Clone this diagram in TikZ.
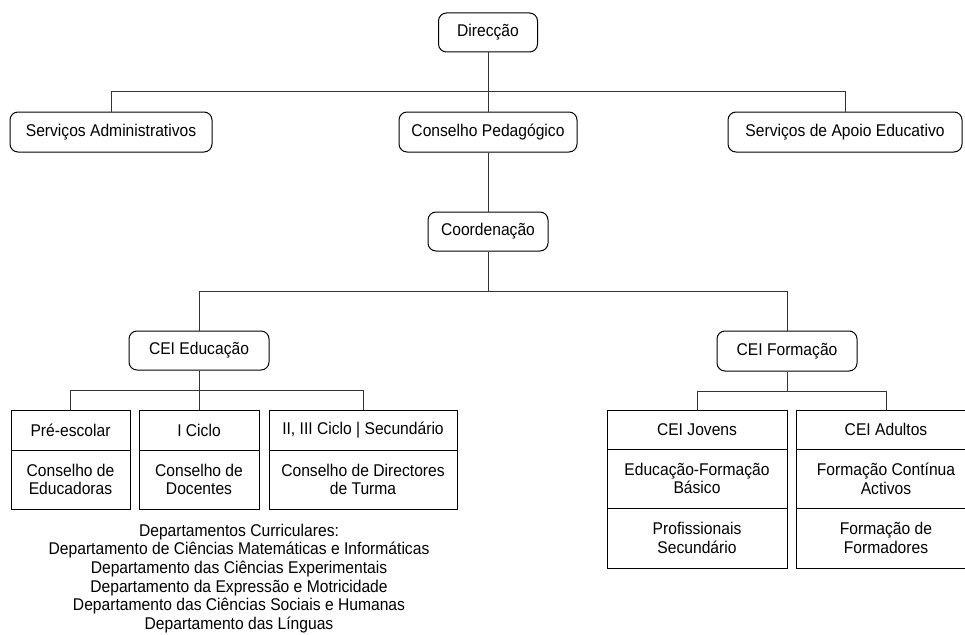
\documentclass[tikz,border=0pt]{standalone}
\usepackage{fontspec}
\setmainfont[FakeStretch=0.92]{Liberation Sans}
\begin{document}
\begin{tikzpicture}[x=1pt,y=-1pt,
  every node/.append style={font=\fontsize{17pt}{18.7pt}\selectfont},
  rbox/.style={draw=black, line width=1pt, rounded corners=8pt, minimum height=40pt, inner sep=0pt, align=center},
  cell/.style={draw=black, line width=1pt, inner sep=0pt, align=center},
  link/.style={draw=black!80, line width=1pt}]
\useasboundingbox (0,0) rectangle (965,634);

% top level
\node[rbox, minimum width=99pt, minimum height=39pt] (dir) at (488,32.5) {Direcção};
\node[rbox, minimum width=202pt] (sadm) at (111,132) {Serviços Administrativos};
\node[rbox, minimum width=178pt] (cped) at (488,132) {Conselho Pedagógico};
\node[rbox, minimum width=234pt] (sapo) at (845,132) {Serviços de Apoio Educativo};
\node[rbox, minimum width=120pt, minimum height=39pt] (coord) at (488,231.5) {Coordenação};
\node[rbox, minimum width=140pt, minimum height=39pt] (ceiedu) at (199,350.5) {CEI Educação};
\node[rbox, minimum width=140pt] (ceifor) at (787,351) {CEI Formação};

% education branch
\node[cell, minimum width=119pt, minimum height=40pt] (pre1) at (70.5,430) {Pré-escolar};
\node[cell, minimum width=119pt, minimum height=59pt] (pre2) at (70.5,479.5) {Conselho de\\Educadoras};
\node[cell, minimum width=120pt, minimum height=40pt] (cic1) at (199,430) {I Ciclo};
\node[cell, minimum width=120pt, minimum height=59pt] (cic2) at (199,479.5) {Conselho de\\Docentes};
\node[cell, minimum width=188pt, minimum height=40pt] (sec1) at (363,430) {II, III Ciclo | Secundário};
\node[cell, minimum width=188pt, minimum height=59pt] (sec2) at (363,479.5) {Conselho de Directores\\de Turma};

\node[inner sep=0pt, align=center] (depts) at (239,578.5)
  {Departamentos Curriculares:\\
   Departamento de Ciências Matemáticas e Informáticas\\
   Departamento das Ciências Experimentais\\
   Departamento da Expressão e Motricidade\\
   Departamento das Ciências Sociais e Humanas\\
   Departamento das Línguas};

% training branch
\node[cell, minimum width=180pt, minimum height=39pt] (jov1) at (697,429.5) {CEI Jovens};
\node[cell, minimum width=180pt, minimum height=59pt] (jov2) at (697,478.5) {Educação-Formação\\Básico};
\node[cell, minimum width=180pt, minimum height=60pt] (jov3) at (697,538) {Profissionais\\Secundário};
\node[cell, minimum width=180pt, minimum height=39pt] (adu1) at (886,429.5) {CEI Adultos};
\node[cell, minimum width=180pt, minimum height=59pt] (adu2) at (886,478.5) {Formação Contínua\\Activos};
\node[cell, minimum width=180pt, minimum height=60pt] (adu3) at (886,538) {Formação de\\Formadores};

% connector bus levels
\coordinate (bus1) at (0,91);
\coordinate (bus2) at (0,291);
\coordinate (bus3) at (0,390);
\coordinate (bus4) at (0,391);

\path[link] (dir.south) -- (cped.north);
\path[link] (sadm.north) |- (sapo.north |- bus1) -- (sapo.north);
\path[link] (cped.south) -- (coord.north);
\path[link] (coord.south) -- (coord.south |- bus2);
\path[link] (ceiedu.north) |- (ceifor.north |- bus2) -- (ceifor.north);
\path[link] (ceiedu.south) -- (cic1.north);
\path[link] (pre1.north) |- (sec1.north |- bus3) -- (sec1.north);
\path[link] (ceifor.south) -- (ceifor.south |- bus4);
\path[link] (jov1.north) |- (adu1.north |- bus4) -- (adu1.north);
\end{tikzpicture}
\end{document}
